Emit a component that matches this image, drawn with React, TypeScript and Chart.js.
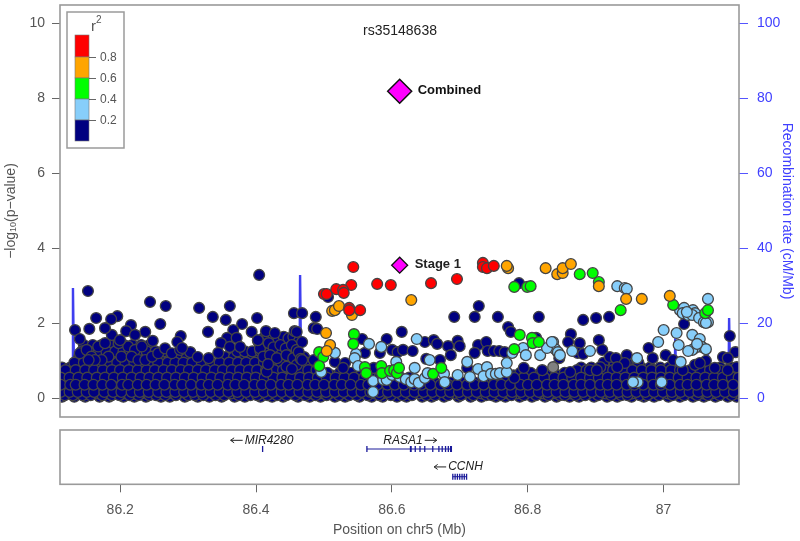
import React, { useEffect, useRef } from "react";
import { Chart, registerables } from "chart.js";

Chart.register(...registerables);

const FONT = "'Liberation Sans', Arial, sans-serif";

// positions are kilobases after 86 Mb, values are -log10(p)
type P = [number, number];

const redSnps: P[] = [[540,3.5],[537,3.02],[575,3.05],[595,3.02],[654,3.07],[692,3.18],[497,2.78],[501,2.78],[515,2.91],[525,2.89],[526,2.81],[534,2.41],[534,2.35],[550,2.35],[730,3.61],[730,3.5],[736,3.47],[746,3.53]];

const orangeSnps: P[] = [[767,3.47],[765,3.53],[822,3.47],[839,3.31],[847,3.34],[847,3.47],[859,3.58],[625,2.62],[900,2.99],[940,2.65],[963,2.65],[1004,2.73],[509,2.33],[513,2.35],[519,2.46],[538,2.22],[500,1.74],[506,1.42],[501,1.26]];

const greenSnps: P[] = [[776,2.97],[795,2.97],[800,2.99],[872,3.31],[891,3.34],[900,3.1],[932,2.35],[1009,2.49],[1056,2.27],[1060,2.35],[784,1.69],[802,1.61],[803,1.47],[812,1.5],[776,1.31],[657,0.65],[669,0.81],[541,1.71],[540,1.45],[490,1.23],[496,1.1],[490,0.86],[557,0.83],[559,0.67],[581,0.86],[582,0.67],[594,0.73],[600,0.75],[604,0.67],[607,0.81]];

const blueSnps: P[] = [[1060,2.65],[1019,2.35],[1025,2.41],[1023,2.27],[1038,2.35],[1041,2.27],[1031,2.22],[1037,2.22],[1029,2.3],[1047,2.14],[1054,2.03],[1060,2.03],[1057,2.01],[995,1.82],[1014,1.74],[1037,1.69],[1048,1.58],[1017,1.42],[1051,1.37],[1057,1.31],[1041,1.34],[1037,1.29],[1031,1.26],[1044,1.45],[987,1.5],[1020,0.97],[992,0.43],[927,2.99],[938,2.94],[941,2.92],[956,1.07],[957,0.43],[950,0.43],[833,1.5],[836,1.31],[840,1.23],[843,1.15],[861,1.26],[887,1.26],[513,1.21],[493,0.7],[563,1.45],[581,1.37],[544,1.18],[542,1.07],[547,0.86],[633,1.58],[630,0.81],[569,0.17],[569,0.46],[584,0.49],[589,0.49],[597,0.62],[603,0.97],[608,0.57],[617,0.51],[625,0.43],[630,0.51],[636,0.41],[645,0.54],[649,0.67],[652,1.02],[673,0.65],[674,0.43],[693,0.62],[707,0.97],[711,0.57],[723,0.78],[736,0.83],[731,0.59],[742,0.65],[749,0.65],[755,0.67],[765,0.7],[765,0.94],[773,1.21],[789,1.34],[793,1.15],[814,1.15],[824,1.34],[831,1.5]];

const graySnps: P[] = [[833,0.83]];

const navySnps: P[] = [[151,2.86],[242,2.57],[265,2.46],[163,2.14],[194,2.19],[185,2.11],[257,1.98],[132,1.82],[153,1.85],[176,1.87],[214,1.95],[235,1.77],[246,1.53],[287,1.66],[282,1.5],[139,1.58],[198,1.55],[207,1.79],[220,1.69],[402,3.29],[314,2.41],[359,2.46],[334,2.17],[353,2.09],[377,1.98],[399,2.14],[327,1.77],[364,1.82],[391,1.77],[453,2.27],[465,2.27],[412,1.79],[425,1.74],[454,1.79],[457,1.77],[465,1.5],[355,1.61],[369,1.61],[346,1.47],[359,1.37],[400,1.55],[301,1.23],[312,1.1],[328,1.07],[289,1.34],[342,1.21],[374,1.37],[460,1.23],[463,1.05],[450,0.78],[415,0.91],[485,2.17],[482,1.87],[487,1.85],[465,1.02],[482,1.02],[553,1.58],[589,1.58],[611,1.77],[645,1.5],[597,1.29],[605,1.23],[613,1.29],[627,1.26],[557,1.21],[579,1.21],[647,1.05],[513,0.97],[528,0.94],[525,0.81],[570,0.81],[724,2.46],[688,2.17],[718,2.17],[752,2.17],[812,2.17],[783,3.07],[767,1.9],[771,1.77],[658,1.55],[663,1.45],[693,1.53],[696,1.39],[679,1.39],[723,1.42],[735,1.5],[683,1.15],[718,1.21],[737,1.26],[746,1.26],[754,1.26],[762,1.23],[808,1.61],[667,1.02],[707,0.81],[790,0.81],[817,0.75],[776,0.54],[877,2.09],[896,2.14],[915,2.17],[859,1.71],[855,1.5],[872,1.47],[900,1.55],[905,1.29],[869,1.21],[877,1.18],[916,1.1],[925,1.07],[941,1.15],[973,1.34],[842,1.07],[902,0.83],[858,0.7],[938,0.94],[887,0.75],[897,0.75],[927,0.83],[1025,1.98],[1092,1.66],[1100,1.23],[1082,1.1],[1089,1.07],[998,1.15],[979,1.07],[1009,1.02],[1057,1.0],[1041,0.89],[1023,0.75],[1070,0.81],[1102,0.83],[1089,0.75],[1048,0.94],[503,2.7]];

const navyClumps: P[] = [[139,1.2],[149,1.29],[156,1.11],[166,1.38],[176,1.47],[186,1.69],[196,1.47],[181,1.11],[171,1.02],[161,1.02],[152,1.02],[200,1.11],[210,1.38],[220,1.29],[230,1.38],[215,1.11],[225,1.02],[235,1.02],[245,1.11],[254,1.2],[264,1.33],[274,1.2],[286,1.29],[401,1.51],[408,1.6],[414,1.69],[423,1.69],[430,1.55],[438,1.64],[445,1.6],[452,1.64],[460,1.51],[403,1.33],[416,1.47],[423,1.36],[433,1.42],[441,1.33],[450,1.42],[457,1.29],[408,1.11],[418,1.15],[428,1.07],[442,1.15],[452,1.07],[457,0.89],[442,0.84],[413,0.71]];

const navyRow142 = [145,158,171,183,196,204,216,229,241];
const navyRow125 = [142,152,167,178,191,203,212,224,237,250,262,370,381,392,404,418,433,446,458];
const navyRow110 = [138,149,163,174,186,199,209,221,233,245,256,271,283,296,352,365,378,388,401,413,427,441,452,468];
const navyRow095 = [131,145,158,171,183,194,206,219,231,243,254,268,279,291,304,318,331,344,358,371,383,396,409,421,434,447,472,907,923,941,958];
const navyRow082 = [113,125,139,153,165,178,191,203,214,227,240,252,263,276,288,301,313,326,339,352,364,377,390,403,415,428,441,455,469,478,874,889,904,918,933,947,962,975,990,1003,1078,1093];
const navyRow075 = [118,133,147,160,173,186,198,211,224,237,249,262,274,287,299,312,324,337,349,362,374,387,399,412,424,437,449,462,474,486,868,882,896,909,921,936,949,963,977,991,1006,1019,1034,1049,1063,1077,1091,1104];
const navyRow068 = [116,129,143,156,168,181,193,207,218,230,244,256,269,281,295,307,320,333,346,359,372,386,398,411,424,437,450,463,476,489,502,520,537,560,785,800,815,830,850,868,880,894,910,923,940,955,968,985,1000,1012,1030,1045,1058,1075,1090,1103];
const navyRow061 = [113,126,140,153,166,179,195,208,221,234,247,260,273,287,298,313,325,339,351,365,379,391,405,417,431,444,457,470,483,495,508,530,548,565,775,793,808,823,840,856,871,886,899,915,931,946,959,973,989,1002,1021,1036,1052,1068,1081,1097];
const navyRow055 = [111,124,137,150,164,176,189,202,215,228,241,254,267,280,293,306,319,332,345,358,371,384,397,410,423,436,449,462,475,488,501,514,527,541,556,578,593,622,760,775,790,805,820,835,848,861,874,887,900,913,926,939,952,965,978,991,1004,1017,1030,1043,1056,1069,1082,1095,1105];
const navyRow048 = [118,131,146,158,171,185,198,211,222,236,249,262,276,289,302,315,328,341,354,367,380,393,406,419,432,445,458,471,484,496,509,522,536,550,563,580,596,610,628,765,781,795,813,828,842,855,869,882,895,908,921,934,947,960,973,986,999,1012,1025,1038,1051,1064,1077,1090,1103];
const navyRow042 = [114,127,139,152,166,179,192,205,217,232,245,258,271,284,297,310,323,336,349,362,375,388,401,414,427,440,453,466,479,492,505,518,531,544,557,572,586,601,615,644,660,683,700,718,733,747,758,771,784,797,810,823,836,849,862,875,888,901,914,927,940,953,966,979,992,1005,1018,1031,1044,1057,1070,1083,1096];
const navyRow036 = [111,125,133,146,159,172,185,201,210,224,237,250,263,278,289,302,317,328,341,356,367,380,395,406,419,434,445,458,473,484,497,512,523,536,551,562,575,590,601,614,629,640,653,668,679,692,707,718,731,746,757,770,785,796,809,824,835,848,863,874,887,902,913,926,941,952,965,980,991,1004,1019,1030,1043,1058,1069,1082,1097];
const navyRow031 = [110,122,135,148,161,174,187,199,213,226,239,252,265,278,291,304,317,330,343,356,369,382,395,408,421,434,447,460,473,486,499,512,525,538,551,564,577,590,603,616,629,642,655,668,681,694,707,720,733,746,759,772,785,798,811,824,837,850,863,876,889,902,915,928,941,954,967,980,993,1006,1019,1032,1045,1058,1071,1084,1097];
const navyRow027 = [115,128,141,151,167,178,193,206,216,231,242,257,268,281,296,307,322,333,348,359,372,385,398,413,424,437,452,463,476,491,502,515,530,541,554,569,580,595,606,619,634,645,658,673,684,697,712,723,736,751,762,775,790,801,814,829,840,853,868,879,892,907,918,931,946,957,970,985,996,1009,1024,1035,1048,1063,1074,1087,1102];
const navyRow022 = [116,130,143,157,169,183,195,209,222,235,248,261,274,287,300,313,327,340,352,366,379,392,405,418,431,445,458,470,483,497,510,523,535,549,562,575,588,602,614,628,640,654,667,680,693,706,719,732,745,758,771,784,797,810,823,836,849,862,875,888,901,914,927,940,953,966,979,992,1005,1018,1031,1044,1057,1070,1083,1099];
const navyRow017 = [111,124,136,149,160,175,188,200,215,227,240,254,266,279,292,305,318,331,344,357,370,383,396,409,422,435,448,461,474,487,500,513,526,539,552,565,578,591,604,617,630,643,656,669,682,695,708,721,734,747,760,773,786,799,812,825,838,851,864,877,890,903,916,929,942,955,968,981,994,1007,1020,1033,1046,1059,1072,1085,1098];
const navyRow013 = [112,125,138,152,163,177,190,204,218,229,243,256,268,283,295,309,322,335,347,361,374,387,401,412,426,439,452,465,479,491,505,517,532,544,558,571,583,597,610,623,637,650,662,676,689,702,715,728,741,754,767,780,793,806,819,832,845,858,871,884,897,910,923,936,949,962,975,988,1001,1014,1027,1040,1053,1066,1079,1092,1104];
const navyRow008 = [117,129,143,155,172,186,197,212,225,241,251,264,280,298,308,320,338,351,372,389,399,414,428,442,455,470,485,501,519,534,545,561,578,595,612,626,647,660,679,698,716,735,743,756,772,790,808,826,843,850,866,880,899,918,933,942,960,971,988,1008,1025,1044,1060,1077,1095];
const navyRow004 = [113,131,147,168,182,203,219,236,258,271,293,312,329,347,366,381,404,421,437,459,476,492,513,528,549,567,583,604,618,641,655,673,694,712,728,749,763,784,802,821,838,857,871,893,912,927,948,966,981,1002,1019,1038,1054,1071,1089,1102];

// rows in the order they are stacked: low and high rows alternate, so that the mass is mottled
const navyLevels = [0.04, 0.31, 0.61, 0.13, 0.48, 0.82, 0.22, 0.68, 1.1, 0.08, 0.42, 0.95, 0.27, 0.75, 1.42, 0.17, 0.55, 1.25, 0.36];
const navyRows = [navyRow004, navyRow031, navyRow061, navyRow013, navyRow048, navyRow082, navyRow022, navyRow068, navyRow110, navyRow008, navyRow042, navyRow095, navyRow027, navyRow075, navyRow142, navyRow017, navyRow055, navyRow125, navyRow036];

const leadCombined: P[] = [[608, 8.19]];
const leadStage1: P[] = [[608, 3.55]];

// recombination rate, kb after 86 Mb against cM/Mb
const recombination: P[] = [[110,0.2],[128,0.3],[129,29.4],[131,0.4],[170,0.3],[171,8.5],[173,0.3],[300,0.2],[461,0.3],[462,32.9],[464,0.3],[700,0.2],[1011,0.3],[1012,16],[1014,0.3],[1059,0.3],[1060,12],[1062,0.3],[1090,0.3],[1091,21.4],[1093,0.3],[1105,0.2]];

const yTicks = [0, 2, 4, 6, 8, 10];
const recTicks = [0, 20, 40, 60, 80, 100];
const xTicks = [86.2, 86.4, 86.6, 86.8, 87];

const rasa1Span = [86.5633, 86.6877];
const rasa1Exons = [86.5633, 86.6275, 86.6283, 86.6345, 86.6415, 86.6485, 86.6603, 86.6693, 86.6742, 86.6791, 86.6832, 86.6866, 86.6877];
const mir4280Exons = [86.4097];
const ccnhSpan = [86.6898, 86.7101];
const ccnhExons = [86.6898, 86.6932, 86.6966, 86.7, 86.7034, 86.7067, 86.7101];

const legendColors = ["#ff0000", "#ffa500", "#00ff00", "#87cefa", "#000080"];
const legendLabels = ["0.8", "0.6", "0.4", "0.2"];

const mb = (k: number) => 86 + k / 1000;
const pts = (a: P[]) => a.map(([k, y]) => ({ x: mb(k), y }));

const snpSet = (label: string, data: any[], fill: string) => ({
  label,
  data,
  yAxisID: "y",
  backgroundColor: fill,
  borderColor: "#444444",
  borderWidth: 1.3,
  pointRadius: 5.4,
  showLine: false,
});

const navyData = [
  ...navyRows.flatMap((row, i) => row.map((k) => ({ x: mb(k), y: navyLevels[i] }))),
  ...pts(navyClumps),
  ...pts(navySnps),
];

function text(ctx: any, s: string, x: number, y: number, font: string, color: string, align = "left") {
  ctx.font = font;
  ctx.fillStyle = color;
  ctx.textAlign = align;
  ctx.textBaseline = "middle";
  ctx.fillText(s, x, y);
}

const noEdgePadding = (s: any) => {
  s.paddingTop = 0;
  s.paddingBottom = 0;
};

const mainOverlay = {
  id: "mainOverlay",
  afterDraw(chart: any) {
    const { ctx, scales } = chart;
    const a = chart.chartArea;
    ctx.save();
    ctx.strokeStyle = "#9a9a9a";
    ctx.lineWidth = 1.6;
    ctx.strokeRect(a.left, a.top, a.right - a.left, a.bottom - a.top);

    text(ctx, "rs35148638", 400, 31, `14px ${FONT}`, "#222222", "center");
    const cx = scales.x.getPixelForValue(mb(leadCombined[0][0]));
    text(ctx, "Combined", cx + 18, scales.y.getPixelForValue(leadCombined[0][1]) - 1, `bold 13px ${FONT}`, "#111111");
    text(ctx, "Stage 1", cx + 15, scales.y.getPixelForValue(leadStage1[0][1]) - 1, `bold 13px ${FONT}`, "#222222");

    // r2 legend
    ctx.strokeStyle = "#9a9a9a";
    ctx.lineWidth = 1.5;
    ctx.fillStyle = "#ffffff";
    ctx.fillRect(67, 12, 57, 136);
    ctx.strokeRect(67, 12, 57, 136);
    text(ctx, "r", 91, 27, `15px ${FONT}`, "#555555", "left");
    text(ctx, "2", 96, 20, `10px ${FONT}`, "#555555", "left");
    const edges = [35, 57, 78, 99, 120, 141];
    legendColors.forEach((c, i) => {
      ctx.fillStyle = c;
      ctx.fillRect(75, edges[i], 14, edges[i + 1] - edges[i]);
      ctx.strokeStyle = "#777777";
      ctx.lineWidth = 0.6;
      ctx.strokeRect(75, edges[i], 14, edges[i + 1] - edges[i]);
    });
    legendLabels.forEach((t, i) => {
      ctx.strokeStyle = "#666666";
      ctx.lineWidth = 1;
      ctx.beginPath();
      ctx.moveTo(89, edges[i + 1] + 0.5);
      ctx.lineTo(96, edges[i + 1] + 0.5);
      ctx.stroke();
      text(ctx, t, 100, edges[i + 1] + 0.5, `12px ${FONT}`, "#555555");
    });

    // left axis title with its subscript
    ctx.translate(11, 211);
    ctx.rotate(-Math.PI / 2);
    const col = "#555555";
    const f1 = `14px ${FONT}`;
    const f2 = `9px ${FONT}`;
    ctx.font = f1;
    const w1 = ctx.measureText("\u2212log").width;
    const w3 = ctx.measureText("(p\u2212value)").width;
    ctx.font = f2;
    const w2 = ctx.measureText("10").width;
    let x = -(w1 + w2 + w3) / 2;
    text(ctx, "\u2212log", x, 0, f1, col);
    x += w1;
    text(ctx, "10", x, 3, f2, col);
    x += w2;
    text(ctx, "(p\u2212value)", x, 0, f1, col);
    ctx.restore();
  },
};

const geneOverlay = {
  id: "geneOverlay",
  afterDraw(chart: any) {
    const { ctx, scales } = chart;
    const a = chart.chartArea;
    ctx.save();
    ctx.strokeStyle = "#9a9a9a";
    ctx.lineWidth = 1.6;
    ctx.strokeRect(a.left, a.top, a.right - a.left, a.bottom - a.top);
    const f = `italic 12px ${FONT}`;
    const col = "#222222";
    const arrow = (x0: number, x1: number, y: number) => {
      const dir = x1 > x0 ? 1 : -1;
      ctx.strokeStyle = col;
      ctx.lineWidth = 1;
      ctx.beginPath();
      ctx.moveTo(x0, y);
      ctx.lineTo(x1, y);
      ctx.moveTo(x1 - dir * 3.5, y - 2.5);
      ctx.lineTo(x1, y);
      ctx.lineTo(x1 - dir * 3.5, y + 2.5);
      ctx.stroke();
    };
    const lbl = (s: string, mbx: number, row: number) => {
      const px = scales.x.getPixelForValue(mbx);
      const py = scales.y.getPixelForValue(row);
      text(ctx, s, px, py, f, col, "center");
      const half = ctx.measureText(s).width / 2;
      return { px, py, half };
    };
    const m = lbl("MIR4280", 86.4191, 0.81);
    arrow(m.px - m.half - 2, m.px - m.half - 14, m.py);
    const r = lbl("RASA1", 86.6165, 0.81);
    arrow(r.px + r.half + 2, r.px + r.half + 14, r.py);
    const c = lbl("CCNH", 86.7085, 0.32);
    arrow(c.px - c.half - 2, c.px - c.half - 14, c.py);
    ctx.restore();
  },
};

export default function App() {
  const mainRef = useRef<HTMLCanvasElement>(null);
  const geneRef = useRef<HTMLCanvasElement>(null);

  useEffect(() => {
    const main = new Chart(mainRef.current as any, {
      type: "scatter",
      data: {
        datasets: [
          { ...snpSet("Combined", pts(leadCombined), "#ff00ff"), pointStyle: "rectRot", pointRadius: 12, borderColor: "#111111", borderWidth: 1.5 },
          { ...snpSet("Stage 1", pts(leadStage1), "#ff00ff"), pointStyle: "rectRot", pointRadius: 8, borderColor: "#111111", borderWidth: 1.3 },
          snpSet("0.8-1.0", pts(redSnps), "#ff0000"),
          snpSet("0.6-0.8", pts(orangeSnps), "#ffa500"),
          snpSet("0.4-0.6", pts(greenSnps), "#00ff00"),
          snpSet("0.2-0.4", pts(blueSnps), "#87cefa"),
          snpSet("no LD", pts(graySnps), "#808080"),
          snpSet("0-0.2", navyData, "#000080"),
          {
            label: "Recombination rate",
            data: pts(recombination),
            yAxisID: "y2",
            showLine: true,
            pointRadius: 0,
            borderColor: "#3f3ff0",
            borderWidth: 2.4,
            tension: 0,
          } as any,
        ],
      },
      options: {
        responsive: false,
        animation: false,
        layout: { autoPadding: false, padding: { top: 5, bottom: 3, left: 0, right: 0 } },
        plugins: { legend: { display: false }, tooltip: { enabled: false } },
        scales: {
          x: { type: "linear", display: false, min: 86.11, max: 87.1055 },
          y: {
            type: "linear",
            position: "left",
            min: -0.5,
            max: 10.49,
            grid: { drawOnChartArea: false, color: "#666666", tickLength: 8 },
            border: { display: false },
            afterBuildTicks: (s: any) => { s.ticks = yTicks.map((value) => ({ value })); },
            afterFit: (s: any) => { s.width = 60; noEdgePadding(s); },
            ticks: { color: "#555555", font: { family: FONT, size: 14 }, padding: 7 },
          },
          y2: {
            type: "linear",
            position: "right",
            min: -5,
            max: 104.9,
            grid: { drawOnChartArea: false, color: "#5555ff", tickLength: 9 },
            border: { display: false },
            afterBuildTicks: (s: any) => { s.ticks = recTicks.map((value) => ({ value })); },
            afterFit: (s: any) => { s.width = 61; noEdgePadding(s); },
            ticks: { color: "#4040ff", font: { family: FONT, size: 14 }, padding: 9 },
            title: { display: true, text: "Recombination rate (cM/Mb)", color: "#4040ff", font: { family: FONT, size: 14 }, padding: { top: 5, bottom: 0 } },
          },
        },
      } as any,
      plugins: [mainOverlay],
    });

    const genes = new Chart(geneRef.current as any, {
      type: "scatter",
      data: {
        datasets: [
          { label: "RASA1", data: rasa1Span.map((x) => ({ x, y: 0.65 })), showLine: true, pointRadius: 0, borderColor: "#1a1a9a", borderWidth: 1 },
          { label: "CCNH", data: ccnhSpan.map((x) => ({ x, y: 0.14 })), showLine: true, pointRadius: 0, borderColor: "#1a1a9a", borderWidth: 1 },
          ...[
            [rasa1Exons, 0.65],
            [mir4280Exons, 0.65],
            [ccnhExons, 0.14],
          ].map(([xs, y]: any, i) => ({
            label: `exons ${i}`,
            data: xs.map((x: number) => ({ x, y })),
            pointStyle: "line",
            pointRotation: 90,
            pointRadius: 3,
            borderColor: "#1a1a9a",
            backgroundColor: "#1a1a9a",
            borderWidth: 1.3,
          })),
        ],
      },
      options: {
        responsive: false,
        animation: false,
        layout: { autoPadding: false, padding: { top: 10, bottom: 0, left: 60, right: 61 } },
        plugins: { legend: { display: false }, tooltip: { enabled: false } },
        scales: {
          y: { type: "linear", display: false, min: 0, max: 1 },
          x: {
            type: "linear",
            min: 86.1113,
            max: 87.1113,
            grid: { drawOnChartArea: false, color: "#666666", tickLength: 8 },
            border: { display: false },
            afterBuildTicks: (s: any) => { s.ticks = xTicks.map((value) => ({ value })); },
            afterFit: (s: any) => { s.height = 56.7; },
            ticks: { color: "#555555", font: { family: FONT, size: 14 }, padding: 9, maxRotation: 0, autoSkip: false, callback: (v: any) => String(v) },
            title: { display: true, text: "Position on chr5 (Mb)", color: "#555555", font: { family: FONT, size: 14 }, padding: { top: 6, bottom: 2 } },
          },
        },
      } as any,
      plugins: [geneOverlay],
    });

    return () => {
      main.destroy();
      genes.destroy();
    };
  }, []);

  return (
    <div style={{ position: "absolute", left: 0, top: 0, width: 800, height: 541, background: "#fff", overflow: "hidden" }}>
      <canvas ref={mainRef} width={800} height={420} style={{ position: "absolute", left: 0, top: 0, display: "block" }} />
      <canvas ref={geneRef} width={800} height={121} style={{ position: "absolute", left: 0, top: 420, display: "block" }} />
    </div>
  );
}
